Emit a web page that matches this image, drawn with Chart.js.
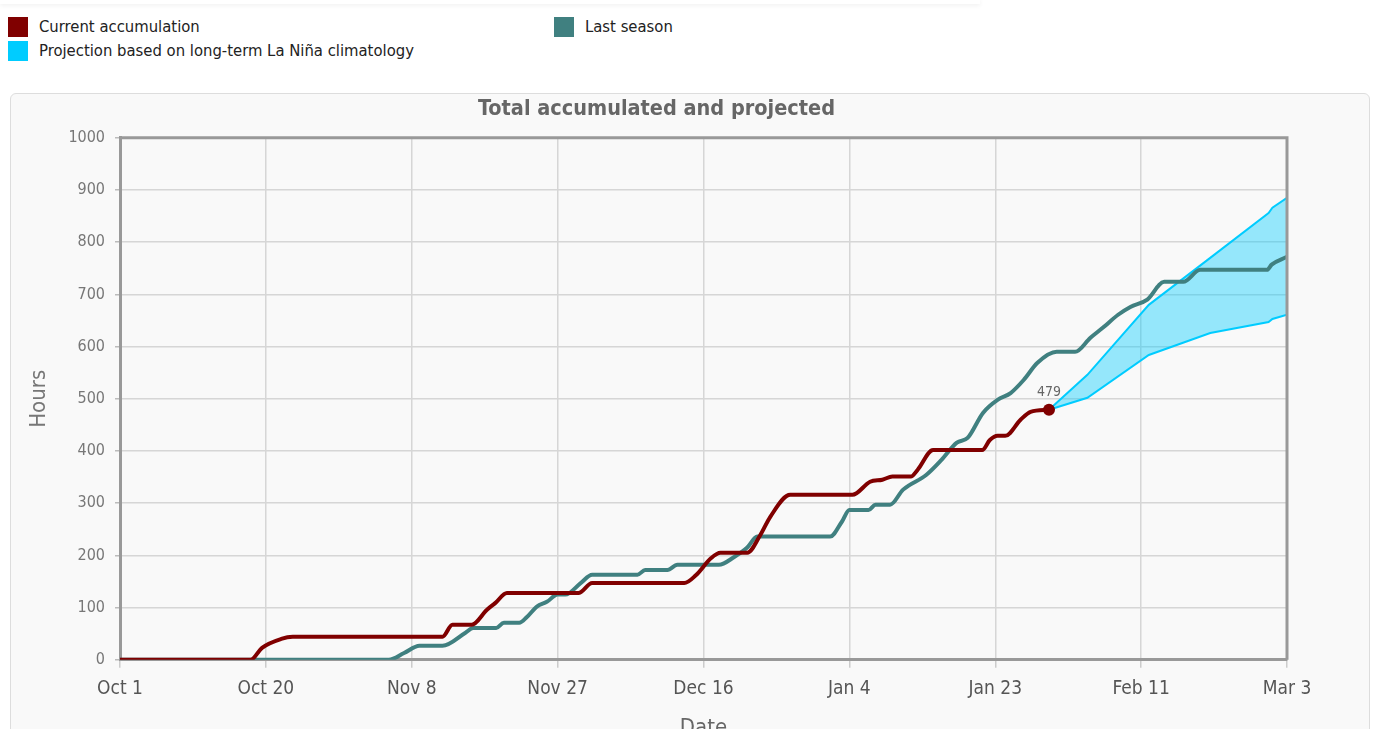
<!DOCTYPE html>
<html>
<head>
<meta charset="utf-8">
<script src="https://cdn.jsdelivr.net/npm/chart.js"></script>
<style>
  body { margin: 0; background: #fff; font-family: "DejaVu Sans Condensed", "DejaVu Sans", sans-serif; overflow: hidden; }
  .topbar { position: absolute; left: 0; top: 0; width: 980px; height: 4px; box-shadow: 0 1px 5px rgba(0,0,0,0.08); }
  .legend { position: absolute; font-size: 16.5px; color: #222; }
  .legend .item { position: absolute; white-space: nowrap; }
  .legend .sw { position: absolute; width: 20px; height: 20px; }
  .legend .tx { position: absolute; left: 31px; top: 0px; }
  .card { position: absolute; left: 10px; top: 93px; width: 1358px; height: 700px; border: 1px solid #ddd; border-radius: 6px; background: #f9f9f9; }
  .wrap { position: absolute; left: 0; top: 0; width: 1358px; height: 647px; }
</style>
</head>
<body>
<div class="topbar"></div>
<div class="legend">
  <div class="item" style="left:8px;top:17px"><div class="sw" style="background:#800000"></div><div class="tx">Current accumulation</div></div>
  <div class="item" style="left:8px;top:41px"><div class="sw" style="background:#00ccff"></div><div class="tx">Projection based on long-term La Niña climatology</div></div>
  <div class="item" style="left:554px;top:17px"><div class="sw" style="background:#408080"></div><div class="tx">Last season</div></div>
</div>
<div class="card">
  <div class="wrap"><canvas id="grafik"></canvas></div>
</div>
<script>
// x axis = days since Oct 1
const tarihEtiketleri = ["Oct 1", "Oct 20", "Nov 8", "Nov 27", "Dec 16", "Jan 4", "Jan 23", "Feb 11", "Mar 3"];

// Current accumulation
const simdikiGun = [0, 17, 18.5, 21, 22.5, 42, 43.3, 45.8, 47.8, 48.9, 50.4, 59.7, 61.5, 73.5, 75, 77, 78.2, 81.7, 83.4, 84.7, 87.3, 95.4, 97.7, 99.3, 100.6, 103, 103.9, 105.9, 112.3, 113.3, 114.3, 115.3, 117.3, 118.6, 121];
const simdikiSaat = [0, 0, 23, 40, 44, 44, 67, 67, 96, 109, 128, 128, 147, 147, 162, 195, 205, 205, 239, 274, 316, 316, 341, 345, 351, 351, 364, 402, 402, 421, 429, 429, 460, 475, 479];

// Last season
const gecenGun = [0, 35, 37, 39, 42, 45, 46, 49, 50, 52, 53, 54.3, 55.6, 57, 58, 60, 61.5, 67.4, 68.4, 71.3, 72.6, 78, 80, 81.7, 83, 92.5, 94, 95, 97.5, 98.4, 100.3, 102, 105, 107, 109, 110.4, 112.4, 114.3, 116, 117.7, 119.5, 122, 124.4, 126.4, 128, 130, 131.6, 133.8, 136, 138.5, 140.7, 149.4, 150, 152];
const gecenSaat = [0, 0, 13, 27, 27, 52, 61, 61, 71, 71, 82, 102, 111, 125, 125, 147, 163, 163, 172, 172, 182, 182, 197, 215, 236, 236, 264, 287, 287, 297, 297, 326, 354, 383, 416, 425, 473, 498, 511, 536, 569, 590, 590, 617, 636, 661, 676, 690, 724, 724, 747, 747, 757, 772];

// Projection band (La Niña)
const projGun = [121, 126, 134, 142, 149.6, 150.1, 152];
const projUst = [479, 546, 680, 770, 856, 866, 885];
const projAlt = [479, 502, 584, 626, 647, 653, 661];

const nokta = (xs, ys) => xs.map((x, i) => ({ x: x, y: ys[i] }));
const sonIndex = simdikiGun.length - 1;
const yazi = "'DejaVu Sans Condensed', 'DejaVu Sans'";

// frame + end label
const cerceve = {
  id: "cerceve",
  afterDatasetsDraw(chart) {
    const { ctx, chartArea: a } = chart;
    ctx.save();
    ctx.strokeStyle = "#999";
    ctx.lineWidth = 3;
    ctx.beginPath();
    ctx.moveTo(a.left, a.top);
    ctx.lineTo(a.right, a.top);
    ctx.lineTo(a.right, a.bottom);
    ctx.stroke();
    const p = chart.getDatasetMeta(0).data[sonIndex];
    ctx.fillStyle = "#666";
    ctx.font = "14px " + yazi;
    ctx.textAlign = "center";
    ctx.textBaseline = "bottom";
    ctx.fillText(String(simdikiSaat[sonIndex]), p.x, p.y - 10);
    ctx.restore();
  }
};

new Chart(document.getElementById("grafik"), {
  type: "line",
  data: {
    datasets: [
      {
        label: "Current accumulation",
        data: nokta(simdikiGun, simdikiSaat),
        borderColor: "#800000",
        backgroundColor: "#800000",
        borderWidth: 4,
        cubicInterpolationMode: "monotone",
        pointRadius: c => c.dataIndex === sonIndex ? 6 : 0,
        pointBorderWidth: 0,
        fill: false,
        order: 0
      },
      {
        label: "Last season",
        data: nokta(gecenGun, gecenSaat),
        borderColor: "#408080",
        borderWidth: 4,
        cubicInterpolationMode: "monotone",
        pointRadius: 0,
        fill: false,
        order: 1
      },
      {
        label: "Projection based on long-term La Niña climatology",
        data: nokta(projGun, projUst),
        borderColor: "#00ccff",
        backgroundColor: "rgba(0,204,255,0.4)",
        borderWidth: 2,
        pointRadius: 0,
        tension: 0,
        fill: "+1",
        order: 2
      },
      {
        label: "proj-low",
        data: nokta(projGun, projAlt),
        borderColor: "#00ccff",
        borderWidth: 2,
        pointRadius: 0,
        tension: 0,
        fill: false,
        order: 3
      }
    ]
  },
  options: {
    responsive: true,
    maintainAspectRatio: false,
    animation: false,
    layout: { padding: { left: 15, right: 82, top: 0, bottom: 0 } },
    plugins: {
      legend: { display: false },
      tooltip: { enabled: false },
      title: {
        display: true,
        text: "Total accumulated and projected",
        color: "#666",
        font: { family: yazi, size: 21.5, weight: "bold" },
        padding: { top: 3, bottom: 15 }
      }
    },
    scales: {
      x: {
        type: "linear",
        min: 0,
        max: 152,
        afterBuildTicks: s => { s.ticks = tarihEtiketleri.map((t, i) => ({ value: i * 19 })); },
        ticks: {
          color: "#555",
          padding: 10,
          font: { family: yazi, size: 19 },
          callback: v => tarihEtiketleri[Math.round(v / 19)]
        },
        grid: { color: "#d6d6d6", lineWidth: 1.5, tickLength: 8, tickColor: "#ccc" },
        border: { color: "#999", width: 3 },
        title: {
          display: true,
          text: "Date",
          color: "#666",
          font: { family: yazi, size: 22 },
          padding: { top: 4, bottom: 0 }
        }
      },
      y: {
        min: 0,
        max: 1000,
        afterFit: s => { s.width = 94; },
        ticks: {
          stepSize: 100,
          color: "#777",
          padding: 10,
          font: { family: yazi, size: 16 },
          callback: v => String(v)
        },
        grid: { color: "#d6d6d6", lineWidth: 1.5, tickLength: 5, tickColor: "#bbb" },
        border: { color: "#999", width: 3 },
        title: {
          display: true,
          text: "Hours",
          color: "#777",
          font: { family: yazi, size: 22 },
          padding: { top: 0, bottom: 0 }
        }
      }
    }
  },
  plugins: [cerceve]
});
</script>
</body>
</html>
